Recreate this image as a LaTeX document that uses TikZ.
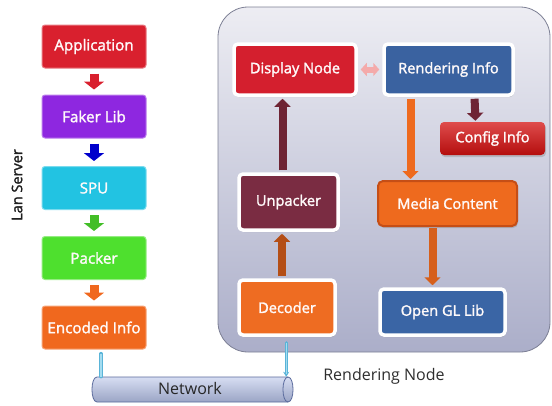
\documentclass[tikz,border=0pt]{standalone}
\usepackage{fontspec}
\setmainfont{Open Sans}
\newfontfamily\semib[FakeBold=1.8]{Open Sans}
\usetikzlibrary{shapes.geometric,arrows.meta,shadows,calc}
\definecolor{cApp}{HTML}{D9202E}
\definecolor{cFak}{HTML}{8E27E0}
\definecolor{cSpu}{HTML}{22C3E2}
\definecolor{cPak}{HTML}{4EE02E}
\definecolor{cEnc}{HTML}{F0681E}
\definecolor{cDisp}{HTML}{D41F2E}
\definecolor{cRend}{HTML}{3A62A0}
\definecolor{cConf}{HTML}{D41010}
\definecolor{cUnp}{HTML}{7A2C42}
\definecolor{cMed}{HTML}{EE6A1E}
\definecolor{cMedB}{HTML}{C54E16}
\definecolor{cDec}{HTML}{EE6C22}
\definecolor{cGL}{HTML}{3A65A5}
\definecolor{cMaroon}{HTML}{6E2434}
\definecolor{cPink}{HTML}{F4AAAA}
\definecolor{cNetLine}{HTML}{5AB4D8}
\definecolor{cNetLineIn}{HTML}{A4DCF0}
\definecolor{cBgTop}{HTML}{EDEDF3}
\definecolor{cBgBot}{HTML}{ABAEC9}
\definecolor{cBgBorder}{HTML}{7C7F94}
\definecolor{cNet}{HTML}{B6C2E8}
\definecolor{cNetB}{HTML}{5A6A9C}
\begin{document}
\begin{tikzpicture}[x=1pt,y=-1pt,
  lbox/.style={rectangle, rounded corners=3pt, minimum width=104pt, minimum height=43pt,
    text=white!92!pink, font=\fontsize{15.2}{17}\semib, line width=1pt},
  rbox/.style={rectangle, rounded corners=4pt, draw=white, line width=3.5pt,
    text=white!92!pink, font=\fontsize{14.6}{16}\semib,
    drop shadow={opacity=0.35, shadow xshift=1pt, shadow yshift=-2pt}},
  barrow/.style={line width=8pt, -{Triangle[width=16pt,length=8pt]}},
  sarrow/.style={line width=9pt, -{Triangle[width=20pt,length=8pt]}, shorten <=5pt, shorten >=5pt},
  netline/.style={draw=cNetLine, line width=3.2pt, line cap=round},
  netlinein/.style={draw=cNetLineIn, line width=1.3pt},
  lbl/.style={font=\fontsize{16}{18}\selectfont, text=black!82}
]
\useasboundingbox (0,0) rectangle (552,405);

% Rendering node background
\path[draw=cBgBorder, line width=0.8pt, rounded corners=30pt, top color=cBgTop, bottom color=cBgBot]
  (218,7) rectangle (550,352);
\node[lbl] (rnlabel) at (384,376) {Rendering Node};

% Left column
\node[lbl, rotate=90, font=\fontsize{14.5}{16}\semib, text=black!88] (lan) at (17,185) {Lan Server};
\node[lbox, fill=cApp, draw=cApp!60!white] (app) at (94,46.5) {Application};
\node[lbox, fill=cFak, draw=cFak!60!white] (fak) at (94,116.5) {Faker Lib};
\node[lbox, fill=cSpu, draw=cSpu!60!white] (spu) at (94,188) {SPU};
\node[lbox, fill=cPak, draw=cPak!60!white] (pak) at (94,258) {Packer};
\node[lbox, fill=cEnc, draw=cEnc!60!white] (enc) at (94,327.5) {Encoded Info};

\draw[sarrow, draw=cApp] (app.south) -- (fak.north);
\draw[sarrow, draw=blue!80!black] (fak.south) -- (spu.north);
\draw[sarrow, draw=cPak!85!black] (spu.south) -- (pak.north);
\draw[sarrow, draw=cEnc] (pak.south) -- (enc.north);

% Right nodes
\node[rbox, fill=cDisp, minimum width=122pt, minimum height=51pt] (disp) at (295,69.5) {Display Node};
\node[rbox, fill=cRend, minimum width=129pt, minimum height=51pt] (rend) at (448.5,69.5) {Rendering Info};
\node[rectangle, rounded corners=4pt, top color=cConf!75!white, bottom color=cConf!85!black,
  minimum width=105pt, minimum height=33pt, text=white!92!pink, font=\fontsize{14.6}{16}\semib,
  drop shadow={opacity=0.35, shadow xshift=1pt, shadow yshift=-2pt}] (conf) at (492.5,138.5) {Config Info};
\node[rbox, fill=cUnp, minimum width=99pt, minimum height=56pt] (unp) at (288.5,202) {Unpacker};
\node[rectangle, rounded corners=5pt, fill=cMed, draw=cMedB, line width=2pt,
  minimum width=139pt, minimum height=45pt, text=white!92!pink, font=\fontsize{14.6}{16}\semib,
  drop shadow={opacity=0.35, shadow xshift=1pt, shadow yshift=-2pt}] (med) at (447.5,203.5) {Media Content};
\node[rbox, fill=cDec, minimum width=96pt, minimum height=55pt] (dec) at (287,307.5) {Decoder};
\node[rbox, fill=cGL, minimum width=125pt, minimum height=46pt] (gl) at (442.5,312) {Open GL Lib};

% Right arrows
\draw[barrow, draw=cMaroon, shorten <=2pt, shorten >=2pt] ([xshift=-6pt]unp.north) -- ([xshift=-6pt]unp.north |- disp.south);
\draw[barrow, draw=cEnc!75!black, shorten <=2pt, shorten >=2pt] ([xshift=-5pt]dec.north) -- ([xshift=-5pt]dec.north |- unp.south);
\draw[barrow, draw=cMed, shorten <=2pt, shorten >=1pt] ([xshift=-38pt]rend.south) -- ([xshift=-37pt]med.north);
\draw[barrow, draw=cMaroon, shorten <=2pt, shorten >=1pt] ([xshift=26pt]rend.south) -- ([xshift=-17pt]conf.north);
\draw[barrow, draw=cMed!90!black, shorten <=1pt, shorten >=2pt] ([xshift=-15pt]med.south) -- ([xshift=-10pt]gl.north);
\draw[line width=6pt, draw=cPink, {Triangle[width=13pt,length=6pt]}-{Triangle[width=13pt,length=6pt]}, shorten <=3pt, shorten >=3pt]
  (disp.east) -- (rend.west);

% Network
\node[minimum width=201pt, minimum height=25pt, inner sep=0pt] (net) at (192.5,389.5) {};
\path[draw=cNetB, line width=0.8pt, top color=cNet!55!white, bottom color=cNet!85!black]
  (97,377) -- (288,377) .. controls (294.7,377) and (294.7,402) .. (288,402)
  -- (97,402) .. controls (90.3,402) and (90.3,377) .. (97,377) -- cycle;
\draw[cNetB, line width=0.8pt] (288,377) .. controls (281.3,377) and (281.3,402) .. (288,402);
\node[font=\fontsize{16}{18}\selectfont, text=black!85] (netlbl) at (190,388.5) {Network};
\coordinate (encbot) at ([xshift=7pt,yshift=-4pt]enc.south);
\coordinate (netL) at (encbot |- net.north);
\coordinate (decbot) at ([xshift=-7pt,yshift=-6pt]dec.south -| net.north east);
\coordinate (netR) at ([xshift=-7pt]net.north east);
\draw[netline] (encbot) -- (netL);
\draw[netlinein] (encbot) -- (netL);
\draw[netline, -{Stealth[length=5pt,width=6pt]}] (decbot) -- (netR);
\draw[netlinein, shorten >=3pt] (decbot) -- (netR);
\end{tikzpicture}
\end{document}
